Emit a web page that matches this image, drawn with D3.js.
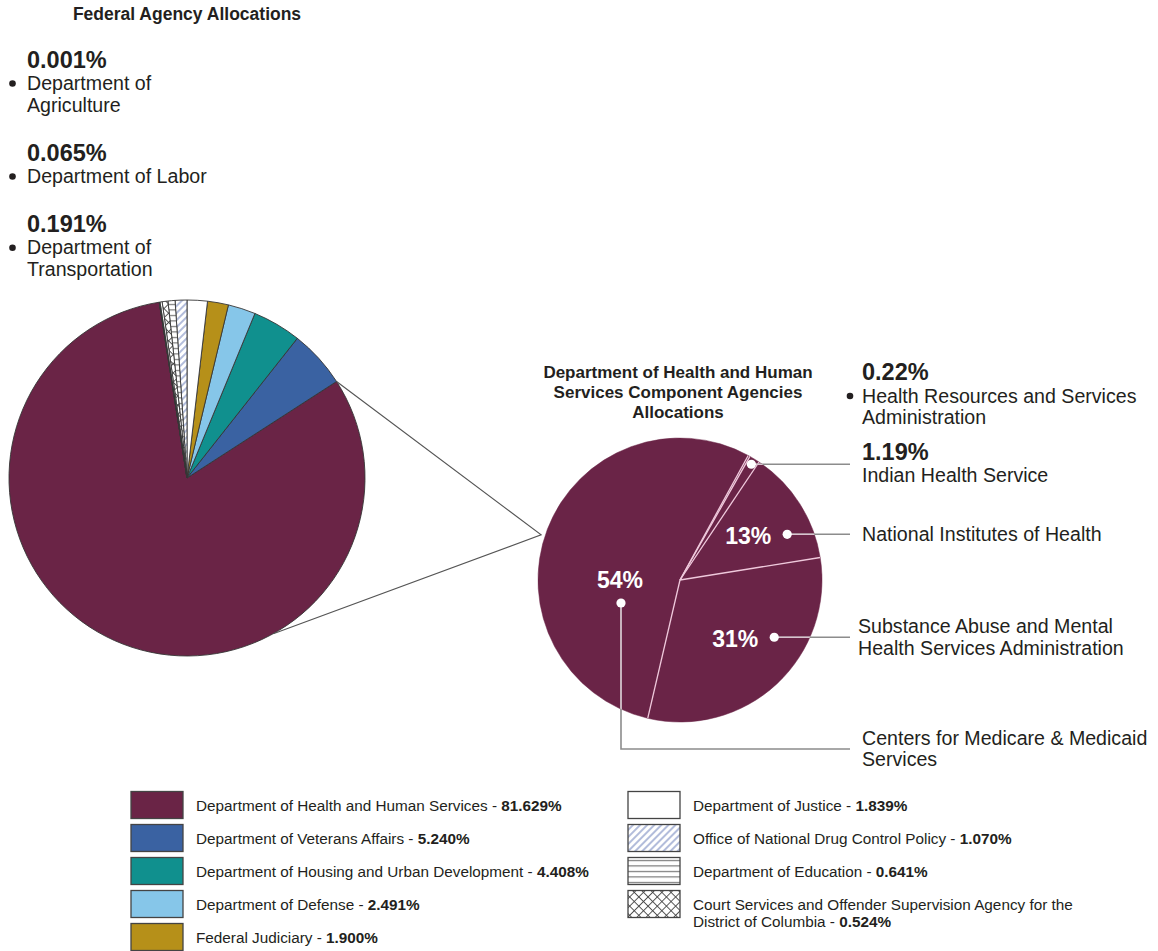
<!DOCTYPE html>
<html>
<head>
<meta charset="utf-8">
<script src="https://cdn.jsdelivr.net/npm/d3@7"></script>
<style>
  body { margin: 0; background: #fff; }
  svg { display: block; font-family: "Liberation Sans", Arial, Helvetica, sans-serif; }
</style>
</head>
<body>
<div id="chart"></div>
<script>
// federal agencies, legend order (= counter-clockwise round the big pie, starting with HHS)
const agencies = [
  "Department of Health and Human Services",
  "Department of Veterans Affairs",
  "Department of Housing and Urban Development",
  "Department of Defense",
  "Federal Judiciary",
  "Department of Justice",
  "Office of National Drug Control Policy",
  "Department of Education",
  "Court Services and Offender Supervision Agency for the District of Columbia",
  "Department of Transportation",
  "Department of Labor",
  "Department of Agriculture",
];
const agencyShares = [81.629, 5.24, 4.408, 2.491, 1.9, 1.839, 1.07, 0.641, 0.524, 0.191, 0.065, 0.001];

// HHS component agencies, clockwise from just right of 12 o'clock
const hhsAgencies = [
  "Health Resources and Services Administration",
  "Indian Health Service",
  "National Institutes of Health",
  "Substance Abuse and Mental Health Services Administration",
  "Centers for Medicare & Medicaid Services",
];
const hhsShares = [0.22, 1.19, 13, 31, 54];

const legendCount = 9; // the last three only get a callout top left

// styles (kept apart from the data)
const agencyFill = ["#6a2446", "#3a62a2", "#10908e", "#86c6e9", "#b69019", "#ffffff",
  "url(#pat-diag)", "url(#pat-horiz)", "url(#pat-cross)", "#ffffff", "#ffffff", "#ffffff"];
const hhsFill = "#6a2447";
const ink = "#231f20";

const W = 1158, H = 951;
const big = { cx: 187, cy: 478, r: 178 };
const small = { cx: 680, cy: 580, r: 142 };
const rad = (deg) => (deg * Math.PI) / 180;
const polar = (c, a, r) => [c.cx + r * Math.sin(a), c.cy - r * Math.cos(a)];

const svg = d3.select("#chart").append("svg").attr("width", W).attr("height", H);

// fill patterns
const defs = svg.append("defs");
const diag = defs.append("pattern").attr("id", "pat-diag").attr("patternUnits", "userSpaceOnUse")
  .attr("width", 5).attr("height", 5).attr("patternTransform", "rotate(45)");
diag.append("rect").attr("width", 5).attr("height", 5).attr("fill", "#fff");
diag.append("line").attr("x1", 1).attr("y1", 0).attr("x2", 1).attr("y2", 5)
  .attr("stroke", "#7f90c4").attr("stroke-width", 1.2);

const horiz = defs.append("pattern").attr("id", "pat-horiz").attr("patternUnits", "userSpaceOnUse")
  .attr("width", 6).attr("height", 5.5);
horiz.append("rect").attr("width", 6).attr("height", 5.5).attr("fill", "#fff");
horiz.append("line").attr("x1", 0).attr("y1", 2.5).attr("x2", 6).attr("y2", 2.5)
  .attr("stroke", "#444").attr("stroke-width", 0.9);

const cross = defs.append("pattern").attr("id", "pat-cross").attr("patternUnits", "userSpaceOnUse")
  .attr("width", 6.5).attr("height", 6.5).attr("patternTransform", "rotate(45)");
cross.append("rect").attr("width", 6.5).attr("height", 6.5).attr("fill", "#fff");
cross.append("line").attr("x1", 0.5).attr("y1", 0).attr("x2", 0.5).attr("y2", 6.5)
  .attr("stroke", "#444").attr("stroke-width", 0.9);
cross.append("line").attr("x1", 0).attr("y1", 0.5).attr("x2", 6.5).attr("y2", 0.5)
  .attr("stroke", "#444").attr("stroke-width", 0.9);

defs.append("clipPath").attr("id", "smallClip")
  .append("circle").attr("cx", small.cx).attr("cy", small.cy).attr("r", small.r);

// ---------- big pie ----------
const total = d3.sum(agencyShares);
// HHS .. Justice run counter-clockwise and Justice ends at 12 o'clock
const bigStart = (2 * Math.PI * d3.sum(agencyShares.slice(0, 6))) / total;
const bigPie = d3.pie().sort(null).startAngle(bigStart).endAngle(bigStart - 2 * Math.PI);
const bigArcs = bigPie(agencyShares);
const bigArc = d3.arc().innerRadius(0).outerRadius(big.r);

svg.append("g")
  .attr("transform", "translate(" + big.cx + "," + big.cy + ")")
  .selectAll("path")
  .data(bigArcs)
  .enter()
  .append("path")
  .attr("d", bigArc)
  .attr("fill", (d) => agencyFill[d.index])
  .attr("stroke", "#363636")
  .attr("stroke-width", 0.9)
  .attr("stroke-linejoin", "round");

svg.append("text")
  .attr("x", big.cx).attr("y", 20)
  .attr("text-anchor", "middle").attr("font-size", 17.5).attr("font-weight", "bold")
  .attr("fill", ink).text("Federal Agency Allocations");

// callouts for the tiny slices
const calloutLines = {
  "Department of Agriculture": ["Department of", "Agriculture"],
  "Department of Labor": ["Department of Labor"],
  "Department of Transportation": ["Department of", "Transportation"],
};
const fmt3 = d3.format(".3f");
let cy = 67.7;
d3.range(agencies.length - 1, legendCount - 1, -1).forEach((i) => {
  svg.append("text").attr("x", 27).attr("y", cy)
    .attr("font-size", 23.5).attr("font-weight", "bold").attr("fill", ink)
    .text(fmt3(agencyShares[i]) + "%");
  const lines = calloutLines[agencies[i]];
  const first = cy + 22.3;
  svg.append("circle").attr("cx", 12.5).attr("cy", first - 6.5).attr("r", 3.3).attr("fill", ink);
  lines.forEach((t, k) => {
    svg.append("text").attr("x", 27).attr("y", first + k * 21.7)
      .attr("font-size", 19.6).attr("fill", ink).text(t);
  });
  cy = first + (lines.length - 1) * 21.7 + 49;
});

// ---------- small pie ----------
const hhsStart = rad(28.7);
const smallPie = d3.pie().sort(null).startAngle(hhsStart).endAngle(hhsStart + 2 * Math.PI);
const smallArcs = smallPie(hhsShares);
const smallArc = d3.arc().innerRadius(0).outerRadius(small.r);

// zoom connector from the HHS slice to the small pie
const hhsEdge = bigArcs[0].endAngle;
const apex = polar(small, rad(288), small.r + 4);
const lowEdge = polar(big, rad(151), big.r);
const upEdge = polar(big, hhsEdge, big.r);
svg.append("path")
  .attr("d", d3.line()([upEdge, apex, lowEdge]))
  .attr("fill", "none").attr("stroke", "#555").attr("stroke-width", 1.1);

svg.append("g")
  .attr("transform", "translate(" + small.cx + "," + small.cy + ")")
  .selectAll("path")
  .data(smallArcs)
  .enter()
  .append("path")
  .attr("d", smallArc)
  .attr("fill", hhsFill)
  .attr("stroke", hhsFill)
  .attr("stroke-width", 0.5);

// slice boundaries only (no outline round the pie)
svg.append("g").selectAll("line").data(smallArcs).enter().append("line")
  .attr("x1", small.cx).attr("y1", small.cy)
  .attr("x2", (d) => polar(small, d.startAngle, small.r)[0])
  .attr("y2", (d) => polar(small, d.startAngle, small.r)[1])
  .attr("stroke", "#efc9dc").attr("stroke-width", 1.3);

const titleLines = ["Department of Health and Human", "Services Component Agencies", "Allocations"];
titleLines.forEach((t, k) => {
  svg.append("text").attr("x", small.cx - 2).attr("y", 378 + k * 20)
    .attr("text-anchor", "middle").attr("font-size", 17).attr("font-weight", "bold")
    .attr("fill", ink).text(t);
});

// labels, leaders and dots
const fmt2 = d3.format(".2f");
const leaderEnd = 850;
const rightLines = {
  "Health Resources and Services Administration": ["Health Resources and Services", "Administration"],
  "Indian Health Service": ["Indian Health Service"],
  "National Institutes of Health": ["National Institutes of Health"],
  "Substance Abuse and Mental Health Services Administration": ["Substance Abuse and Mental", "Health Services Administration"],
  "Centers for Medicare & Medicaid Services": ["Centers for Medicare & Medicaid", "Services"],
};
const leaders = [];
const whiteDots = [];
const inLabels = [];
const blocks = [];

smallArcs.forEach((d) => {
  const name = hhsAgencies[d.index];
  const mid = (d.startAngle + d.endAngle) / 2;
  const v = d.data;
  if (v < 1) {
    // too small for a dot: bulleted label above the pie
    blocks.push({ name, pct: fmt2(v) + "%", x: 862, bullet: true, first: 379.5 });
  } else if (v < 5) {
    const dot = polar(small, mid, small.r - 6);
    whiteDots.push(dot);
    leaders.push([dot, [leaderEnd, dot[1]]]);
    blocks.push({ name, pct: fmt2(v) + "%", x: 862, anchor: dot[1] });
  } else if (v < 50) {
    const c = polar(small, mid, 81);
    inLabels.push({ text: v + "%", x: c[0], y: c[1] });
    const dot = [c[0] + 39, c[1] - 2];
    whiteDots.push(dot);
    leaders.push([dot, [leaderEnd, dot[1]]]);
    blocks.push({ name, x: v > 20 ? 858 : 862, anchor: dot[1] });
  } else {
    // the big slice is labelled on its left side, leader runs down and round
    const c = polar(small, rad(270), 60);
    inLabels.push({ text: v + "%", x: c[0], y: c[1] });
    const dot = [c[0] + 1, c[1] + 23];
    whiteDots.push(dot);
    const ly = small.cy + small.r + 27;
    leaders.push([dot, [dot[0], ly], [leaderEnd, ly]]);
    blocks.push({ name, x: 862, anchor: ly });
  }
});

const leaderLine = d3.line();
svg.append("g").selectAll("path").data(leaders).enter().append("path")
  .attr("d", leaderLine).attr("fill", "none").attr("stroke", "#8c8c8c").attr("stroke-width", 1.6);
svg.append("g").attr("clip-path", "url(#smallClip)").selectAll("path").data(leaders).enter().append("path")
  .attr("d", leaderLine).attr("fill", "none").attr("stroke", "#d9c3cf").attr("stroke-width", 1.6);

svg.append("g").selectAll("circle").data(whiteDots).enter().append("circle")
  .attr("cx", (d) => d[0]).attr("cy", (d) => d[1]).attr("r", 4.6).attr("fill", "#fff");

svg.append("g").selectAll("text").data(inLabels).enter().append("text")
  .attr("x", (d) => d.x).attr("y", (d) => d.y + 8)
  .attr("text-anchor", "middle").attr("font-size", 23).attr("font-weight", "bold")
  .attr("fill", "#fff").text((d) => d.text);

blocks.forEach((b) => {
  const lines = rightLines[b.name];
  const rows = lines.length + (b.pct ? 1 : 0);
  let y = b.bullet ? b.first : b.anchor - ((rows - 1) / 2) * 21.6 + 6.5;
  if (b.pct) {
    svg.append("text").attr("x", b.x).attr("y", y)
      .attr("font-size", 23.5).attr("font-weight", "bold").attr("fill", ink).text(b.pct);
    y += b.bullet ? 23 : 21.6;
  }
  if (b.bullet) {
    svg.append("circle").attr("cx", b.x - 12).attr("cy", y - 6.5).attr("r", 3.3).attr("fill", ink);
  }
  lines.forEach((t, k) => {
    svg.append("text").attr("x", b.x).attr("y", y + k * 21.6)
      .attr("font-size", 19.6).attr("fill", ink).text(t);
  });
});

// ---------- legend ----------
const legendBreak = {
  "Court Services and Offender Supervision Agency for the District of Columbia":
    ["Court Services and Offender Supervision Agency for the", "District of Columbia"],
};
const legend = svg.append("g");
d3.range(legendCount).forEach((i) => {
  const col = i < 5 ? 0 : 1;
  const row = col === 0 ? i : i - 5;
  const x = col === 0 ? 131 : 628;
  const y = 791.5 + row * 33;
  legend.append("rect").attr("x", x).attr("y", y).attr("width", 52).attr("height", 27)
    .attr("fill", agencyFill[i]).attr("stroke", "#444").attr("stroke-width", 1.3);
  const lines = legendBreak[agencies[i]] || [agencies[i]];
  lines.forEach((t, k) => {
    const txt = legend.append("text").attr("x", x + 65).attr("y", y + 19 + k * 17)
      .attr("font-size", 15.3).attr("fill", ink);
    if (k === lines.length - 1) {
      txt.append("tspan").text(t + " - ");
      txt.append("tspan").attr("font-weight", "bold").text(fmt3(agencyShares[i]) + "%");
    } else {
      txt.text(t);
    }
  });
});
</script>
</body>
</html>
